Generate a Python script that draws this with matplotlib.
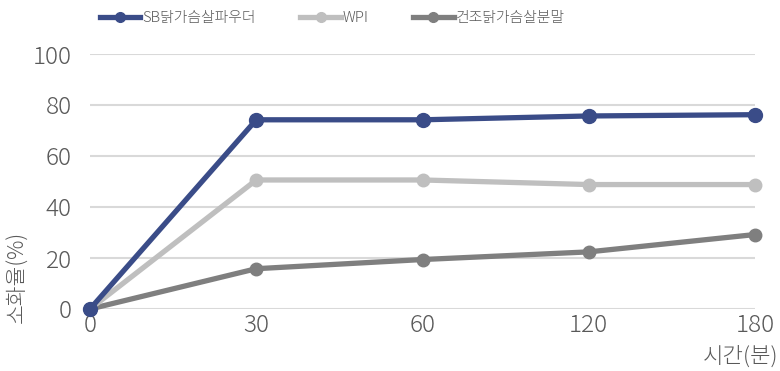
import matplotlib
matplotlib.use("Agg")
import matplotlib.pyplot as plt
from matplotlib.lines import Line2D

plt.rcParams['font.family'] = ['Noto Sans CJK JP', 'DejaVu Sans']
plt.rcParams['font.weight'] = 300

categories = ["0", "30", "60", "120", "180"]
sb_powder = [0, 74.2, 74.2, 75.7, 76.2]
wpi = [0, 50.6, 50.6, 48.8, 48.8]
dried_powder = [0, 15.8, 19.4, 22.4, 29.2]

series_names = ["SB닭가슴살파우더", "WPI", "건조닭가슴살분말"]
colors = ["#3A4C88", "#BFBFBF", "#7F7F7F"]
marker_sizes = [10, 9, 9]

fig = plt.figure(figsize=(7.8, 3.71), dpi=100)
ax = fig.add_axes([90 / 780, 62 / 371, 665 / 780, 255 / 371])

x = list(range(len(categories)))
# draw in reverse so the blue series sits on top
for vals, c, ms in list(zip([sb_powder, wpi, dried_powder], colors, marker_sizes))[::-1]:
    ax.plot(x, vals, color=c, lw=3.8, marker='o', ms=ms, clip_on=False, zorder=3)

ax.set_xlim(0, len(categories) - 1)
ax.set_ylim(0, 100)
ax.set_yticks(range(0, 101, 20))
ax.set_xticks(x)
ax.set_xticklabels(categories)
ax.grid(axis='y', color='#D9D9D9', lw=1.5)
ax.set_axisbelow(True)
for s in ax.spines.values():
    s.set_visible(False)
ax.tick_params(length=0, labelsize=17.5, colors='#595959')
ax.tick_params(axis='y', pad=13)
ax.tick_params(axis='x', pad=3)

fig.text(778 / 780, 1 - 357 / 371, "시간(분)", ha='right', va='center',
         fontsize=16, color='#595959')
fig.text(18 / 780, 1 - 277 / 371, "소화율(%)", ha='center', va='center',
         rotation=90, fontsize=15.5, color='#595959')

handles = [Line2D([0], [0], color=c, lw=3.8, marker='o', ms=7) for c in colors]
fig.legend(handles, series_names, loc='center left', bbox_to_anchor=(100 / 780, 1 - 18 / 371),
           ncol=3, frameon=False, fontsize=10.7, labelcolor='#595959',
           handlelength=2.7, handletextpad=0.15, columnspacing=3.0,
           borderpad=0, borderaxespad=0)

fig.savefig("out.png", dpi=100)
